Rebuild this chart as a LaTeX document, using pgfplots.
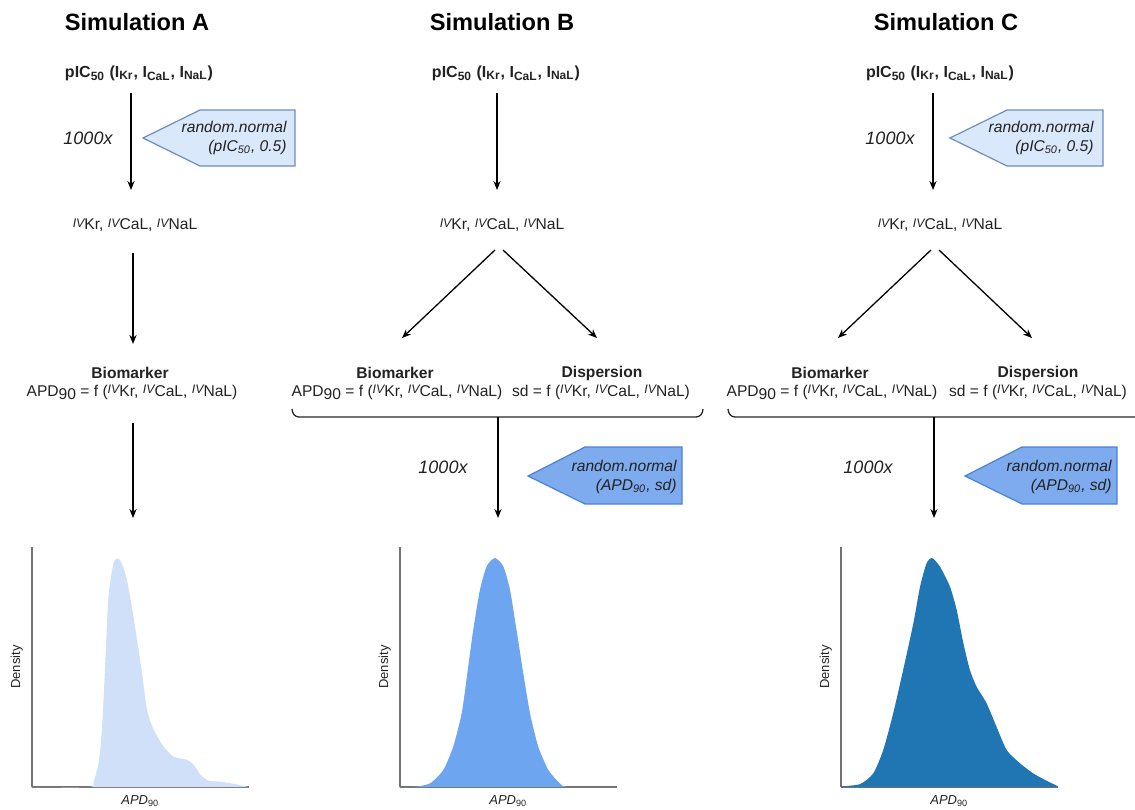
\documentclass[border=0pt]{standalone}
\usepackage{pgfplots}
\pgfplotsset{compat=1.18}
\usepackage{fontspec}
\setmainfont{Liberation Sans}
\usetikzlibrary{arrows.meta}
\definecolor{lightfill}{HTML}{DAE8FC}
\definecolor{lightdraw}{HTML}{6C8EBF}
\definecolor{darkfill}{HTML}{7EAAEE}
\definecolor{darkdraw}{HTML}{4A83D4}
\definecolor{densA}{HTML}{CFE0F8}
\definecolor{densB}{HTML}{6DA5F0}
\definecolor{densC}{HTML}{2075B3}
\definecolor{txt}{HTML}{222222}
\newcommand{\fs}[2]{\fontsize{#1}{#2}\selectfont}
\newcommand{\iv}[1]{{\raisebox{1.1pt}{\fs{6.2}{7}\itshape IV}}#1}
\newcommand{\apd}{APD\raisebox{-1.5pt}{90}}
\newcommand{\ivline}{\iv{Kr}, \iv{CaL}, \iv{NaL}}
\pgfplotstableread{
x y
0 0
26.5 0
28.4 2.2
30.7 9.9
32.3 23.8
33.8 51.5
35.3 79.3
37.6 93.2
39.7 95.3
41.5 93.2
43.8 86.3
46.1 75.1
48.5 61.3
50.8 47.4
53.1 32.1
56.2 23.8
60.8 16.8
65.4 12.6
71.6 11.3
74.7 9.2
77.8 5.0
81.6 2.6
87.0 2.2
93.2 1.3
100 0
}\dataA
\pgfplotstableread{
x y
0 0
6.2 0
13.8 1.5
20.0 7.1
24.6 16.9
28.5 30.8
31.1 47.5
33.8 65.4
36.9 82.1
40.0 91.9
43.8 95.4
47.7 91.9
50.8 82.1
53.8 65.4
56.9 47.5
60.0 30.8
63.8 16.9
68.5 7.1
73.8 1.5
77.7 0
100 0
}\dataB
\pgfplotstableread{
x y
0 0.3
8.8 1.2
14.9 5.7
19.5 15.4
24.1 30.7
28.7 48.8
33.4 68.2
36.5 83.5
39.5 93.2
42.1 95.4
45.7 91.8
50.3 83.5
53.4 73.8
56.5 59.9
59.5 48.8
62.6 41.8
67.2 34.9
71.8 25.1
76.5 15.4
82.6 9.9
88.7 5.7
94.9 2.6
100 0.4
}\dataC
\pgfplotsset{dens/.style={
  scale only axis, width=108.3pt, height=120pt,
  xmin=0, xmax=100, ymin=0, ymax=100,
  axis x line=bottom, axis y line=left,
  axis line style={-, draw=black!55, line width=0.6pt},
  xtick=\empty, ytick=\empty,
  xlabel={\fs{6.5}{7}\itshape APD\textsubscript{\upshape 90}},
  ylabel={\fs{6.5}{7}Density},
  xlabel style={at={(axis description cs:0.5,-0.035)}, anchor=north, inner sep=0pt, text=txt},
  ylabel style={at={(axis description cs:-0.04,0.5)}, anchor=south, inner sep=0pt, text=txt},
  clip=false}}
\begin{document}
\begin{tikzpicture}
\begin{scope}[x=0.5pt,y=-0.5pt]
\path[use as bounding box] (0,0) rectangle (1135,809);
\tikzset{arr/.style={-{Stealth[length=4.5pt,width=3.6pt]}, line width=0.65pt, black},
  ttl/.style={font=\fs{11.8}{13}\bfseries, text=black},
  pic/.style={font=\fs{8}{9}\bfseries, text=txt},
  ivs/.style={font=\fs{7.8}{9}, text=txt},
  rep/.style={font=\fs{9}{10}\itshape, text=txt},
  calltxt/.style={font=\fs{7.8}{9.6}\itshape, align=right, anchor=east, text=txt, inner sep=0pt}}
% Titles
\node[ttl] at (137,22) {Simulation A};
\node[ttl] at (502,22) {Simulation B};
\node[ttl] at (946,22) {Simulation C};
% pIC50 lines
\foreach \cx in {139,506,940}
  \node[pic] at (\cx,73) {pIC\textsubscript{50} (I\textsubscript{Kr}, I\textsubscript{CaL}, I\textsubscript{NaL})};
% first arrows
\draw[arr] (131,93) -- (131,190);
\draw[arr] (497,93) -- (497,190);
\draw[arr] (933,93) -- (933,190);
% 1000x
\node[rep] at (88,138) {1000x};
\node[rep] at (890,138) {1000x};
\node[rep] at (443,467) {1000x};
\node[rep] at (868,467) {1000x};
% light callouts
\draw[fill=lightfill, draw=lightdraw, line width=0.6pt] (143,138) -- (200,110) -- (295,110) -- (295,166) -- (200,166) -- cycle;
\node[calltxt] at (287,138) {random.normal\\(pIC\textsubscript{50}, 0.5)};
\draw[fill=lightfill, draw=lightdraw, line width=0.6pt] (950,138) -- (1007,110) -- (1103,110) -- (1103,166) -- (1007,166) -- cycle;
\node[calltxt] at (1094,138) {random.normal\\(pIC\textsubscript{50}, 0.5)};
% dark callouts
\draw[fill=darkfill, draw=darkdraw, line width=0.6pt] (528,476) -- (585,447) -- (682,447) -- (682,504) -- (585,504) -- cycle;
\node[calltxt] at (677,477) {random.normal\\(APD\textsubscript{90}, sd)};
\draw[fill=darkfill, draw=darkdraw, line width=0.6pt] (965,476) -- (1022,447) -- (1117,447) -- (1117,504) -- (1022,504) -- cycle;
\node[calltxt] at (1112,477) {random.normal\\(APD\textsubscript{90}, sd)};
% IV lines
\node[ivs] at (135,225) {\ivline};
\node[ivs] at (502,225) {\ivline};
\node[ivs] at (940,225) {\ivline};
% Simulation A chain
\draw[arr] (133,253) -- (133,344);
\node[font=\fs{7.8}{9}\bfseries, text=txt] at (130,373) {Biomarker};
\node[ivs] at (132,392) {\apd{} = f (\ivline)};
\draw[arr] (133,423) -- (133,518);
% Simulation B chain
\draw[arr] (495,250) -- (402,338);
\draw[arr] (503,250) -- (597,338);
\node[font=\fs{7.8}{9}\bfseries, text=txt] at (395,373) {Biomarker};
\node[ivs] at (397,392) {\apd{} = f (\ivline)};
\node[font=\fs{7.8}{9}\bfseries, text=txt] at (602,373) {Dispersion};
\node[ivs] at (601,392) {sd = f (\ivline)};
\draw[line width=0.65pt, black!85] (292,409) to[out=-90,in=180] (299,417) -- (696,417) to[out=0,in=-90] (703,409);
\draw[arr] (498,417) -- (498,518);
% Simulation C chain
\draw[arr] (931,250) -- (838,338);
\draw[arr] (939,250) -- (1032,338);
\node[font=\fs{7.8}{9}\bfseries, text=txt] at (830,373) {Biomarker};
\node[ivs] at (832,392) {\apd{} = f (\ivline)};
\node[font=\fs{7.8}{9}\bfseries, text=txt] at (1038,373) {Dispersion};
\node[ivs] at (1038,392) {sd = f (\ivline)};
\draw[line width=0.65pt, black!85] (728,409) to[out=-90,in=180] (735,417) -- (1135,417);
\draw[arr] (934,417) -- (934,518);
\end{scope}
% Density plots (1 px = 0.5 pt)
\begin{axis}[dens, at={(16pt,-393.5pt)}, anchor=south west]
\addplot[fill=densA, draw=none, smooth, tension=0.4] table {\dataA} \closedcycle;
\end{axis}
\begin{axis}[dens, at={(200pt,-393.5pt)}, anchor=south west]
\addplot[fill=densB, draw=none, smooth, tension=0.4] table {\dataB} \closedcycle;
\end{axis}
\begin{axis}[dens, at={(420.5pt,-393.5pt)}, anchor=south west]
\addplot[fill=densC, draw=none, smooth, tension=0.4] table {\dataC} \closedcycle;
\end{axis}
\end{tikzpicture}
\end{document}
